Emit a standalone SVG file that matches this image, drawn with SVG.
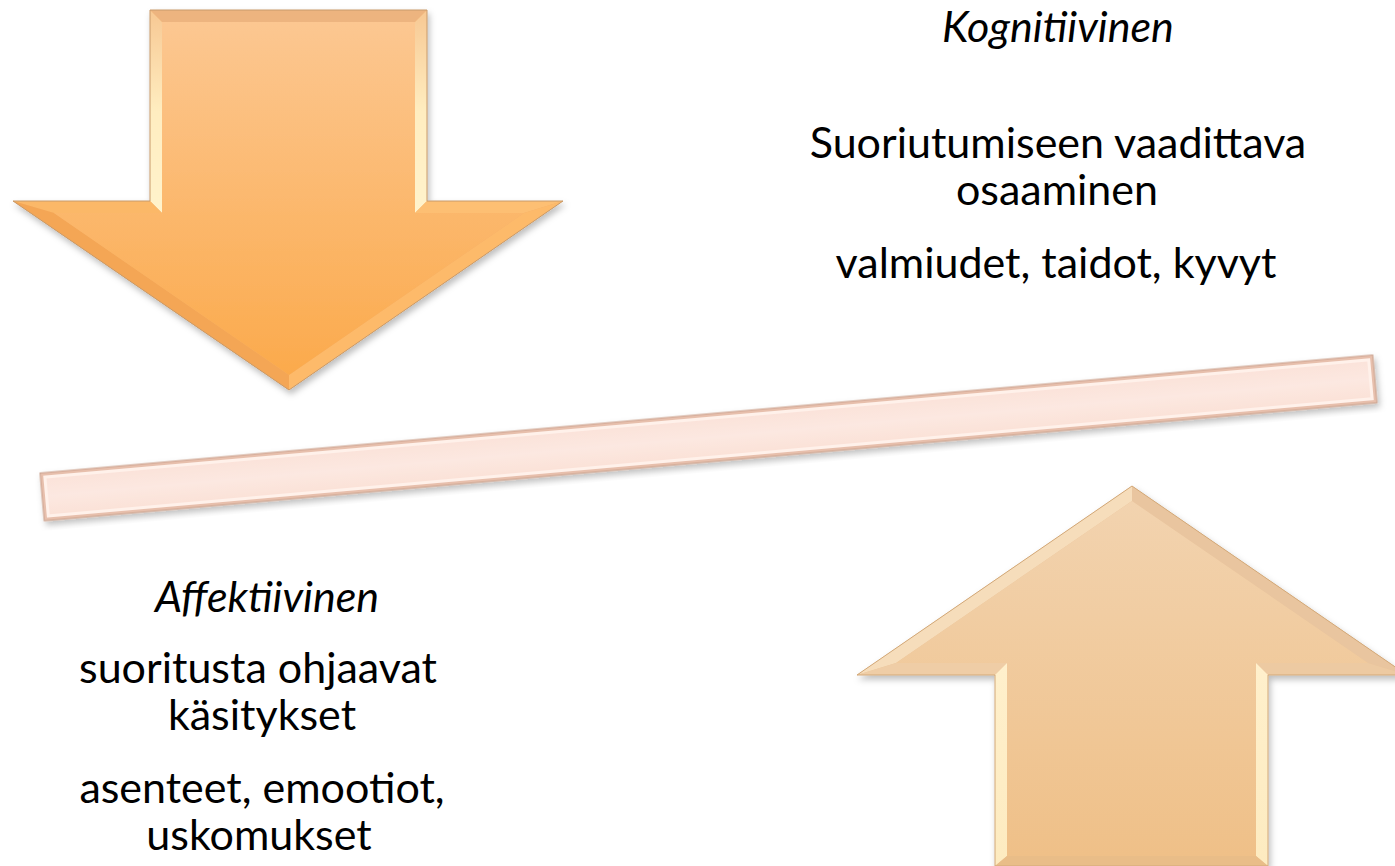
<svg xmlns="http://www.w3.org/2000/svg" width="1395" height="866" viewBox="0 0 1395 866">
<defs>
<style>
.t{font-family:Lato,"Open Sans","Liberation Sans",sans-serif;font-size:43px;fill:#000;text-anchor:middle}
.i{font-style:italic}
</style>
<filter id="sh" x="-10%" y="-10%" width="120%" height="130%">
<feDropShadow dx="2" dy="4" stdDeviation="3" flood-color="#000" flood-opacity="0.25"/>
</filter>
<linearGradient id="gDown" x1="0" y1="0" x2="0" y2="1">
<stop offset="0" stop-color="#FCC791"/>
<stop offset="1" stop-color="#FBAA4C"/>
</linearGradient>
<linearGradient id="gUp" x1="0" y1="0" x2="0" y2="1">
<stop offset="0" stop-color="#F2D3AF"/>
<stop offset="1" stop-color="#EFC088"/>
</linearGradient>
<linearGradient id="hlD" x1="0" y1="0" x2="0" y2="1">
<stop offset="0" stop-color="#F7C893"/>
<stop offset="0.5" stop-color="#FFEDC0"/>
<stop offset="1" stop-color="#FFF3CC"/>
</linearGradient>
<linearGradient id="hlU" x1="0" y1="0" x2="0" y2="1">
<stop offset="0" stop-color="#FFF0CC"/>
<stop offset="1" stop-color="#FDEBC0"/>
</linearGradient>
<linearGradient id="gBar" x1="0" y1="0" x2="0" y2="1">
<stop offset="0" stop-color="#FBE3DA"/>
<stop offset="0.5" stop-color="#FCE8E1"/>
<stop offset="1" stop-color="#FBE2D8"/>
</linearGradient>
</defs>

<g id="down-arrow" filter="url(#sh)">
<polygon points="150,10 427,10 427,201 563,201 289,390 13,201 150,201" fill="#F3B06A"/>
<polygon points="150,10 427,10 415,22 162,22" fill="#EDB47F"/>
<polygon points="150,10 162,22 162,213 150,201" fill="url(#hlD)"/>
<polygon points="427,10 427,201 415,213 415,22" fill="url(#hlD)"/>
<polygon points="13,201 150,201 162,213 54,213" fill="#FBB868"/>
<polygon points="427,201 563,201 524,213 415,213" fill="#FDBF73"/>
<polygon points="13,201 54,213 289,375 289,390" fill="#F4A655"/>
<polygon points="563,201 289,390 289,375 524,213" fill="#FDBA6B"/>
<polygon points="162,22 415,22 415,213 524,213 289,375 54,213 162,213" fill="url(#gDown)"/>
<polygon points="150,10 427,10 427,201 563,201 289,390 13,201 150,201" fill="none" stroke="#C89A6A" stroke-width="1"/>
</g>

<g id="up-arrow" filter="url(#sh)">
<polygon points="1132,486 1407,675 1268,675 1268,866 995,866 995,675 857,675" fill="#EAC49A"/>
<polygon points="857,675 1132,486 1132,501 896,663" fill="#F6DDBB"/>
<polygon points="1132,486 1407,675 1368,663 1132,501" fill="#E9C59F"/>
<polygon points="857,675 896,663 1007,663 995,675" fill="#EFCDA6"/>
<polygon points="1407,675 1268,675 1256,663 1368,663" fill="#EDCAA2"/>
<polygon points="995,675 1007,663 1007,856 995,866" fill="url(#hlU)"/>
<polygon points="1268,675 1256,663 1256,856 1268,866" fill="url(#hlU)"/>
<polygon points="995,866 1007,856 1256,856 1268,866" fill="#E9BD88"/>
<polygon points="1132,501 1368,663 1256,663 1256,856 1007,856 1007,663 896,663" fill="url(#gUp)"/>
<polygon points="1132,486 1407,675 1268,675 1268,866 995,866 995,675 857,675" fill="none" stroke="#D2A878" stroke-width="1"/>
</g>

<g id="bar" filter="url(#sh)" transform="translate(40,473) rotate(-5.06)">
<rect x="0" y="0" width="1338" height="48" fill="#E7BFAC"/>
<rect x="3" y="3" width="1332" height="42" fill="#FFF1EA"/>
<rect x="6" y="6" width="1326" height="36" fill="url(#gBar)"/>
<rect x="0" y="0" width="1338" height="48" fill="none" stroke="#C9A08C" stroke-width="1"/>
</g>

<g id="cognitive-label">
<text class="t i" x="1058" y="42">Kognitiivinen</text>
<text class="t" x="1058" y="158">Suoriutumiseen vaadittava</text>
<text class="t" x="1057" y="205">osaaminen</text>
<text class="t" x="1056" y="278">valmiudet, taidot, kyvyt</text>
</g>

<g id="affective-label">
<text class="t i" x="267" y="612">Affektiivinen</text>
<text class="t" x="258" y="683">suoritusta ohjaavat</text>
<text class="t" x="262" y="730">käsitykset</text>
<text class="t" x="262" y="803">asenteet, emootiot,</text>
<text class="t" x="259" y="850">uskomukset</text>
</g>
<g id="connectors"></g>
</svg>
